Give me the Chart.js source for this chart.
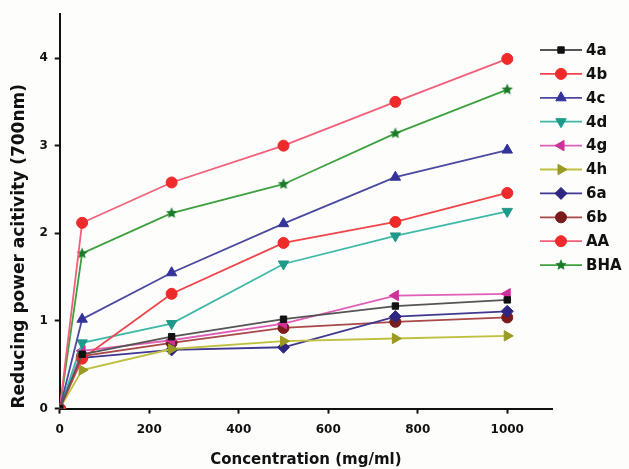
<!DOCTYPE html>
<html>
<head>
<meta charset="utf-8">
<script src="https://cdn.jsdelivr.net/npm/chart.js@4.4.1/dist/chart.umd.min.js"></script>
<style>
html,body{margin:0;padding:0;background:#fdfdfb;}
#wrap{width:629px;height:469px;position:relative;}
</style>
</head>
<body>
<div id="wrap"><canvas id="c" width="629" height="469"></canvas></div>
<script>
const concentrations = [0, 50, 250, 500, 750, 1000];
const xTicks = [0, 200, 400, 600, 800, 1000];
const yTicks = [0, 1, 2, 3, 4];
const seriesNames = ['4a', '4b', '4c', '4d', '4g', '4h', '6a', '6b', 'AA', 'BHA'];
const s4a = [0, 0.62, 0.82, 1.02, 1.17, 1.24];
const s4b = [0, 0.57, 1.31, 1.89, 2.13, 2.46];
const s4c = [0, 1.02, 1.55, 2.11, 2.64, 2.95];
const s4d = [0, 0.75, 0.97, 1.65, 1.97, 2.25];
const s4g = [0, 0.66, 0.78, 0.97, 1.29, 1.31];
const s4h = [0, 0.44, 0.68, 0.77, 0.80, 0.83];
const s6a = [0, 0.58, 0.67, 0.70, 1.05, 1.11];
const s6b = [0, 0.60, 0.75, 0.92, 0.99, 1.04];
const sAA = [0, 2.12, 2.58, 3.00, 3.50, 3.99];
const sBHA = [0, 1.77, 2.23, 2.56, 3.14, 3.64];

const FONT = '"DejaVu Sans", "Liberation Sans", Arial, sans-serif';

function starImage(color, r) {
  const c = document.createElement('canvas');
  c.width = c.height = r * 2 + 2;
  const g = c.getContext('2d');
  g.beginPath();
  for (let i = 0; i < 10; i++) {
    const rr = i % 2 === 0 ? r : r * 0.45;
    const a = -Math.PI / 2 + i * Math.PI / 5;
    const px = r + 1 + rr * Math.cos(a), py = r + 1 + rr * Math.sin(a);
    if (i === 0) g.moveTo(px, py); else g.lineTo(px, py);
  }
  g.closePath();
  g.fillStyle = color;
  g.fill();
  return c;
}

const styles = [
  {line: '#555555', fill: '#111111', ps: 'rect', rot: 0, r: 4.5},
  {line: '#f0454a', fill: '#ee2a2a', ps: 'circle', rot: 0, r: 5.5},
  {line: '#4a4aa0', fill: '#33339a', ps: 'triangle', rot: 0, r: 6},
  {line: '#3fb8a8', fill: '#1f9a8a', ps: 'triangle', rot: 180, r: 6},
  {line: '#e060b8', fill: '#d0309c', ps: 'triangle', rot: -90, r: 6},
  {line: '#c0c040', fill: '#9a9a22', ps: 'triangle', rot: 90, r: 6},
  {line: '#403890', fill: '#2e2680', ps: 'rectRot', rot: 0, r: 6},
  {line: '#a84848', fill: '#7a1c1c', ps: 'circle', rot: 0, r: 5.5},
  {line: '#f0607a', fill: '#ee2a2a', ps: 'circle', rot: 0, r: 5.5},
  {line: '#3fa040', fill: '#1a7a2a', ps: 'star', rot: 0, r: 6}
];
const values = [s4a, s4b, s4c, s4d, s4g, s4h, s6a, s6b, sAA, sBHA];

const datasets = seriesNames.map((n, i) => {
  const st = styles[i];
  const ps = st.ps === 'star' ? starImage(st.fill, 6) : st.ps;
  return {
    label: n,
    data: concentrations.map((x, j) => ({x: x, y: values[i][j]})),
    borderColor: st.line,
    backgroundColor: st.fill,
    pointBackgroundColor: st.fill,
    pointBorderColor: st.fill,
    pointStyle: ps,
    pointRotation: st.rot,
    pointRadius: st.r,
    pointBorderWidth: 1,
    borderWidth: 1.8,
    tension: 0
  };
});

const legendPlugin = {
  id: 'customLegend',
  afterDraw(chart) {
    const ctx = chart.ctx;
    ctx.save();
    chart.data.datasets.forEach((ds, i) => {
      const y = 50 + i * 23.9;
      ctx.strokeStyle = ds.borderColor;
      ctx.lineWidth = 1.8;
      ctx.beginPath();
      ctx.moveTo(540, y);
      ctx.lineTo(582, y);
      ctx.stroke();
      ctx.fillStyle = ds.pointBackgroundColor;
      ctx.strokeStyle = ds.pointBorderColor;
      ctx.lineWidth = 1;
      Chart.helpers.drawPoint(ctx, {
        pointStyle: ds.pointStyle,
        rotation: ds.pointRotation,
        radius: ds.pointRadius,
        borderWidth: 1
      }, 561, y);
      ctx.fillStyle = '#111';
      ctx.font = 'bold 15px ' + FONT;
      ctx.textAlign = 'left';
      ctx.textBaseline = 'middle';
      ctx.fillText(ds.label, 586, y + 1);
    });
    ctx.restore();
  }
};

const bgPlugin = {
  id: 'bg',
  beforeDraw(chart) {
    const ctx = chart.ctx;
    ctx.save();
    ctx.fillStyle = '#fdfdfb';
    ctx.fillRect(0, 0, chart.width, chart.height);
    ctx.restore();
  }
};

new Chart(document.getElementById('c'), {
  type: 'line',
  data: {datasets: datasets},
  plugins: [bgPlugin, legendPlugin],
  options: {
    responsive: false,
    animation: false,
    layout: {padding: {left: 6, right: 77, top: 13, bottom: 0}},
    plugins: {legend: {display: false}, tooltip: {enabled: false}},
    scales: {
      x: {
        type: 'linear',
        min: 0,
        max: 1100,
        afterBuildTicks(axis) { axis.ticks = xTicks.map(v => ({value: v})); },
        ticks: {
          color: '#111',
          font: {family: FONT, size: 12, weight: 'bold'},
          padding: 9,
          maxRotation: 0,
          callback: v => String(v)
        },
        grid: {display: true, drawOnChartArea: false, tickLength: 5, tickColor: '#111', tickWidth: 2},
        border: {display: true, color: '#111', width: 2},
        title: {
          display: true,
          text: 'Concentration (mg/ml)',
          color: '#111',
          font: {family: FONT, size: 15, weight: 'bold'},
          padding: {top: 5, bottom: 0}
        }
      },
      y: {
        type: 'linear',
        min: 0,
        max: 4.5,
        afterBuildTicks(axis) { axis.ticks = yTicks.map(v => ({value: v})); },
        ticks: {
          color: '#111',
          font: {family: FONT, size: 12, weight: 'bold'},
          padding: 7,
          callback: v => String(v)
        },
        grid: {display: true, drawOnChartArea: false, tickLength: 5, tickColor: '#111', tickWidth: 2},
        border: {display: true, color: '#111', width: 2},
        title: {
          display: true,
          align: 'start',
          text: 'Reducing power acitivity (700nm)',
          color: '#111',
          font: {family: FONT, size: 17, weight: 'bold'},
          padding: {top: 3, bottom: 3}
        }
      }
    }
  }
});
</script>
</body>
</html>
